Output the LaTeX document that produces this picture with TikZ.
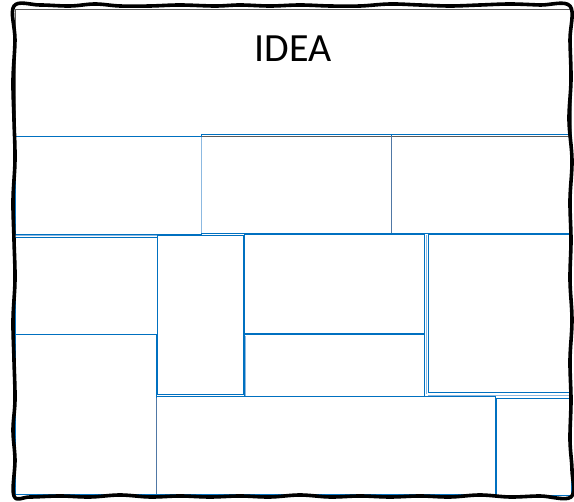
\documentclass[tikz,border=0pt]{standalone}
\usepackage{fontspec}
\setmainfont{Carlito}
\definecolor{boxblue}{RGB}{0,112,192}
\definecolor{lightblue}{RGB}{140,185,225}
\definecolor{grayblue}{RGB}{80,120,165}
\definecolor{hdrgray}{RGB}{90,90,90}
\tikzset{
  cell/.style={draw=boxblue, line width=1pt},
  lightcell/.style={draw=lightblue, line width=1pt},
  thinedge/.style={draw=grayblue, line width=0.7pt},
  header/.style={draw=hdrgray, line width=0.8pt},
  frame/.style={draw=black, line width=3.6pt, line join=round}
}
\begin{document}
\begin{tikzpicture}[x=1pt,y=-1pt]
\useasboundingbox (0,0) rectangle (574,502);
\fill[white] (0,0) rectangle (574,502);
% header area
\draw[header] (15,9) rectangle (571,136);
\node[font=\fontsize{40}{48}\selectfont] (idea) at (293,49) {IDEA};
% row 1
\draw[cell] (15,137) rectangle (201,235);
\draw[cell] (201,135) rectangle (391,234);
\draw[lightcell] (201,137) -- (201,233);
\draw[cell] (391,135) rectangle (571,234);
\draw[thinedge] (391,136) -- (391,233);
% row 2
\draw[lightcell] (15,236) -- (157,236);
\draw[cell] (15,238) rectangle (157,335);
\draw[cell] (157,236) rectangle (243,395);
\draw[lightcell] (245,336) -- (245,396);
\draw[cell] (244,235) rectangle (424,334);
\draw[boxblue, line width=2.2pt] (244,334) -- (424,334);
\draw[cell] (244,334) rectangle (424,397);
\draw[lightcell] (426,235) -- (426,394);
\draw[cell] (428,235) rectangle (571,393);
% row 3
\draw[cell] (15,335) rectangle (156,495);
\draw[cell] (156,397) rectangle (495,495);
\draw[thinedge] (156,398) -- (156,494);
\draw[cell] (496,399) rectangle (571,496);
\draw[lightcell] (428,396) -- (571,396);
% hand-drawn frame
\draw[frame] plot[smooth cycle, tension=0.6] coordinates {
 (14,6) (40,5) (70,6) (95,4) (120,6) (150,6) (180,5) (215,6) (240,5) (270,6)
 (300,5) (330,6) (360,6) (390,4) (420,5) (450,6) (480,5) (510,4) (540,5) (570,6)
 (570,40) (571,80) (569,120) (572,160) (570,200) (571,240) (570,280) (572,320)
 (570,360) (571,400) (570,440) (572,470) (571,497)
 (540,496) (510,497) (480,495) (450,497) (420,496) (390,497) (360,496) (330,497)
 (300,495) (270,497) (240,496) (210,497) (180,496) (150,497) (120,495) (90,497)
 (60,496) (30,497) (14,496)
 (15,460) (13,430) (15,400) (14,360) (13,320) (15,280) (14,240) (13,200)
 (15,160) (14,120) (13,80) (15,40)};
\end{tikzpicture}
\end{document}
